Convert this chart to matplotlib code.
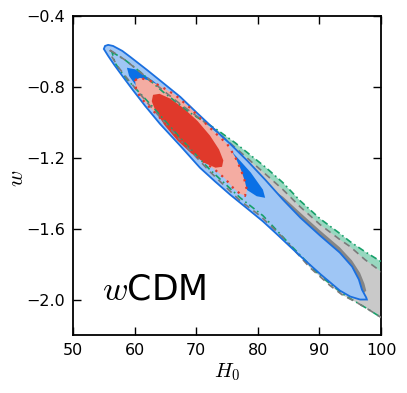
import matplotlib
matplotlib.use('Agg')
import matplotlib.pyplot as plt
from matplotlib.patches import Polygon

plt.rcParams['mathtext.fontset'] = 'cm'

# Contour outlines, (H0, w) vertices.

green_h = [56.33, 58.44, 60.88, 64.61, 68.99, 73.38, 76.30, 78.73, 81.17, 84.09, 86.85,
           90.10, 93.34, 94.97, 97.40, 100.0, 102.27, 102.27, 100.0, 97.73, 94.16, 90.10,
           85.23, 80.84, 77.11, 72.24, 67.37, 62.50, 59.74, 58.12, 56.82]
green_w = [-0.603, -0.648, -0.715, -0.828, -0.946, -1.042, -1.115, -1.183, -1.251, -1.341, -1.442,
           -1.544, -1.628, -1.673, -1.730, -1.786, -1.842, -2.158, -2.101, -2.051, -1.977, -1.865,
           -1.690, -1.527, -1.425, -1.268, -1.087, -0.896, -0.794, -0.732, -0.665]

gray2_h = [56.01, 58.44, 62.50, 67.37, 72.24, 77.11, 81.17, 84.09, 86.85, 90.10, 93.34, 94.97,
           97.40, 100.0, 102.27, 102.27, 100.0, 97.73, 95.78, 93.83, 91.72, 88.47, 84.09, 80.36,
           77.11, 72.24, 67.37, 62.50, 59.25, 57.31, 56.33]
gray2_w = [-0.592, -0.648, -0.761, -0.896, -1.020, -1.166, -1.290, -1.380, -1.476, -1.577, -1.662,
           -1.701, -1.775, -1.842, -1.899, -2.169, -2.101, -2.051, -2.011, -1.977, -1.921, -1.820,
           -1.651, -1.527, -1.442, -1.279, -1.099, -0.907, -0.772, -0.687, -0.631]

gray1_h = [72.0, 78.0, 82.0, 84.1, 86.9, 90.1, 93.3, 95.3, 96.6, 97.3, 97.6, 97.0,
           94.2, 90.0, 85.0, 80.0, 75.0, 72.0]
gray1_w = [-1.06, -1.24, -1.37, -1.42, -1.51, -1.61, -1.705, -1.78, -1.85, -1.91, -1.95, -1.97,
           -1.90, -1.78, -1.62, -1.45, -1.28, -1.15]

blue2_h = [55.2, 55.7, 56.5, 58.0, 59.3, 62.0, 64.6, 67.4, 70.1, 72.7, 75.5, 78.3, 81.2, 84.1,
           86.9, 90.1, 93.3, 95.3, 96.4, 96.9, 97.6, 97.7, 96.6, 95.0, 93.3, 90.1, 86.9, 85.2,
           82.9, 80.8, 78.3, 75.5, 73.1, 70.6, 67.4, 64.1, 61.7, 59.7, 58.0, 56.7, 55.7, 55.0]
blue2_w = [-0.569, -0.563, -0.569, -0.597, -0.631, -0.704, -0.777, -0.856, -0.946, -1.031, -1.121,
           -1.217, -1.324, -1.437, -1.538, -1.639, -1.735, -1.814, -1.887, -1.944, -1.989, -2.0,
           -2.0, -1.983, -1.949, -1.855, -1.755, -1.700, -1.625, -1.558, -1.487, -1.408, -1.335,
           -1.256, -1.132, -1.008, -0.907, -0.817, -0.738, -0.676, -0.625, -0.586]

blue1_h = [81.19, 80.83, 78.85, 75.50, 71.30, 66.90, 62.97, 60.11, 58.75, 59.11, 61.09, 64.43,
           68.64, 73.04, 76.96, 79.82]
blue1_w = [-1.426, -1.380, -1.283, -1.154, -1.010, -0.874, -0.765, -0.701, -0.692, -0.739, -0.835,
           -0.964, -1.108, -1.244, -1.353, -1.417]

red2_h = [60.06, 60.88, 62.50, 64.12, 66.56, 68.99, 71.10, 73.05, 75.00, 76.30, 77.27, 77.92,
          78.25, 77.92, 77.11, 75.97, 74.68, 73.05, 71.43, 70.13, 68.67, 67.05, 65.42, 63.80,
          62.18, 60.88, 60.23]
red2_w = [-0.761, -0.749, -0.766, -0.794, -0.845, -0.918, -0.992, -1.059, -1.121, -1.194, -1.268,
          -1.335, -1.386, -1.414, -1.403, -1.369, -1.318, -1.268, -1.228, -1.194, -1.144, -1.087,
          -1.025, -0.963, -0.907, -0.856, -0.811]

red1_h = [74.19, 74.40, 73.70, 72.24, 70.23, 67.95, 65.78, 64.04, 62.99, 62.78, 63.47, 64.94,
          66.95, 69.22, 71.40, 73.13]
red1_w = [-1.251, -1.215, -1.153, -1.075, -0.993, -0.920, -0.866, -0.839, -0.845, -0.881, -0.943,
          -1.020, -1.103, -1.176, -1.230, -1.256]

x_ticks = [50, 60, 70, 80, 90, 100]
y_ticks = [-2.0, -1.6, -1.2, -0.8, -0.4]


def region(ax, h, w, face, z):
    ax.add_patch(Polygon(list(zip(h, w)), closed=True, facecolor=face,
                         edgecolor='none', zorder=z))


def outline(ax, h, w, color, style, lw, z):
    ax.add_patch(Polygon(list(zip(h, w)), closed=True, facecolor='none',
                         edgecolor=color, linestyle=style, linewidth=lw, zorder=z))


def main():
    fig = plt.figure(figsize=(4.07, 3.93), dpi=100)
    ax = fig.add_axes([0.1794, 0.1476, 0.7568, 0.8117])

    # Filled regions, back to front.
    region(ax, green_h, green_w, '#98d8c0', 1)
    region(ax, gray2_h, gray2_w, '#c9c9c9', 2)
    region(ax, gray1_h, gray1_w, '#858585', 3)
    region(ax, blue2_h, blue2_w, '#9fc6f5', 4)
    region(ax, blue1_h, blue1_w, '#0a70e6', 5)
    region(ax, red2_h, red2_w, '#f4aca2', 6)
    region(ax, red1_h, red1_w, '#e0392b', 7)

    # Outlines go on top of every fill.
    outline(ax, green_h, green_w, '#17a06a', (0, (4, 2, 1, 2)), 1.2, 10)
    outline(ax, gray2_h, gray2_w, '#7a7a7a', (0, (4, 3)), 1.2, 11)
    outline(ax, blue2_h, blue2_w, '#1a6fdf', '-', 1.3, 12)
    outline(ax, red2_h, red2_w, '#e0392b', (0, (1, 2.5)), 1.6, 13)

    ax.text(54.7, -2.0, r'$w$CDM', fontsize=25, ha='left', va='baseline', zorder=20)

    ax.set_xlim(50, 100)
    ax.set_ylim(-2.2, -0.4)
    ax.set_xticks(x_ticks)
    ax.set_yticks(y_ticks)
    ax.set_yticklabels(['\u2212%.1f' % abs(v) for v in y_ticks])
    ax.tick_params(direction='in', length=5.5, width=1, labelsize=11.5, pad=6,
                   top=True, right=True)
    for sp in ax.spines.values():
        sp.set_linewidth(1.3)

    ax.set_xlabel(r'$H_0$', fontsize=15, labelpad=2)
    ax.set_ylabel(r'$w$', fontsize=16)
    ax.yaxis.set_label_coords(-0.15, 0.49)

    fig.savefig('out.png', dpi=100)


if __name__ == '__main__':
    main()
